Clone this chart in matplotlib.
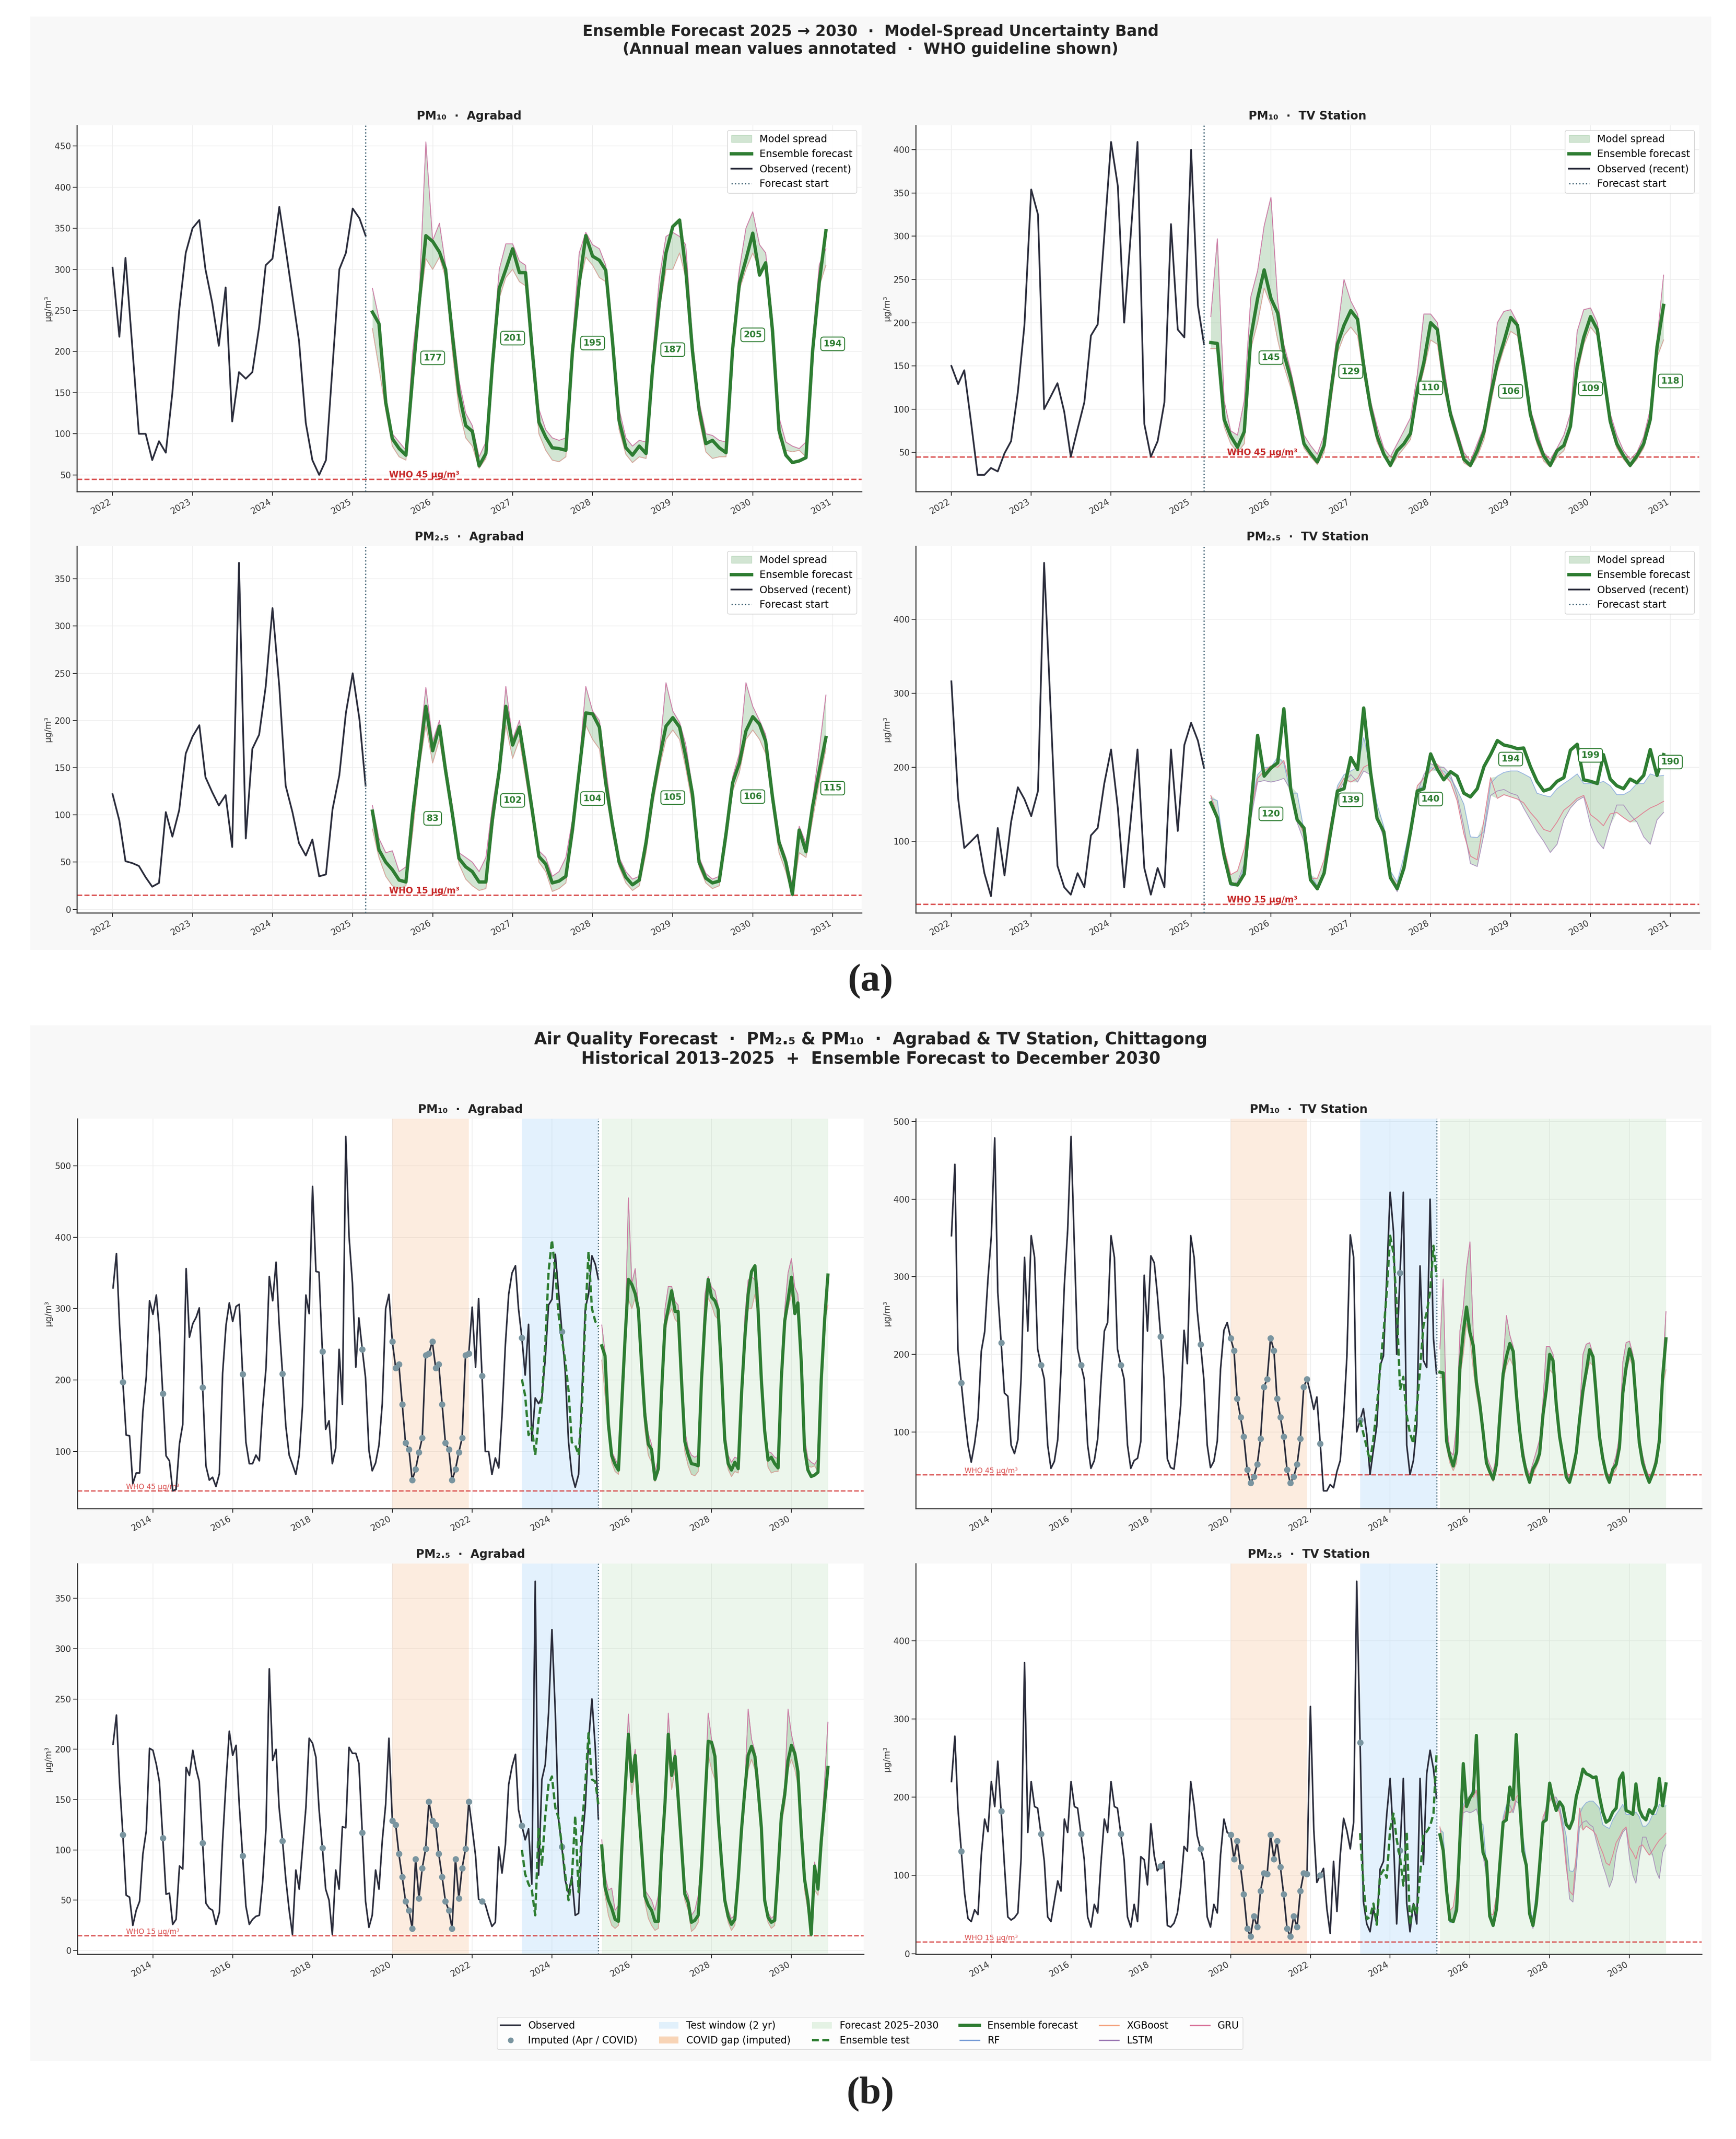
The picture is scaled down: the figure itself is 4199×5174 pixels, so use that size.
import numpy as np
import pandas as pd
import matplotlib
matplotlib.use("Agg")
import matplotlib.pyplot as plt
import matplotlib.dates as mdates
from matplotlib.patches import Patch, Rectangle
from matplotlib.lines import Line2D
from matplotlib.ticker import MultipleLocator

W, H = 4199, 5174

hist_dates = pd.date_range("2013-01-01", periods=108, freq="MS")
recent_dates = pd.date_range("2022-01-01", periods=39, freq="MS")
fc_dates = pd.date_range("2025-04-01", periods=69, freq="MS")
test_dates = pd.date_range("2023-04-01", periods=24, freq="MS")
mean_years = [2025, 2026, 2027, 2028, 2029, 2030]

# ---------------- observed ----------------
agr_pm10_hist = [329, 377, 279, 197, 123, 122, 55, 70, 70, 156, 205, 311,
                 292, 319, 268, 181, 94, 87, 45, 47, 111, 138, 356, 260,
                 279, 288, 301, 190, 80, 60, 64, 51, 69, 210, 277, 308,
                 282, 303, 306, 208, 113, 83, 83, 95, 87, 160, 217, 345,
                 311, 365, 279, 209, 136, 95, 82, 68, 95, 163, 319, 293,
                 471, 352, 351, 240, 131, 143, 83, 105, 243, 166, 541, 401,
                 336, 218, 287, 243, 203, 102, 73, 84, 109, 167, 300, 320,
                 254, 217, 222, 166, 112, 103, 60, 75, 99, 119, 235, 237,
                 254, 217, 222, 166, 112, 103, 60, 75, 99, 119, 235, 237]
agr_pm10_recent = [302, 218, 314, 206, 100, 100, 68, 91, 77, 150, 250, 320,
                   350, 360, 300, 259, 207, 278, 115, 175, 167, 175, 230, 305,
                   313, 376, 325, 268, 213, 113, 68, 50, 68, 182, 300, 320,
                   374, 362, 341]

tv_pm10_hist = [353, 445, 206, 163, 121, 83, 61, 85, 118, 204, 229, 297,
                353, 479, 280, 215, 150, 146, 83, 72, 90, 171, 325, 230,
                353, 325, 207, 186, 168, 83, 53, 62, 90, 181, 290, 360,
                481, 336, 207, 186, 168, 83, 53, 63, 91, 164, 230, 241,
                353, 325, 207, 186, 168, 83, 53, 63, 66, 88, 302, 230,
                327, 318, 278, 223, 168, 65, 54, 52, 88, 134, 231, 188,
                353, 325, 257, 213, 168, 83, 54, 62, 88, 181, 231, 241,
                221, 205, 143, 119, 94, 51, 34, 42, 58, 91, 158, 168,
                221, 205, 143, 119, 94, 51, 34, 42, 58, 91, 158, 168]
tv_pm10_recent = [150, 129, 145, 85, 24, 24, 32, 28, 49, 63, 120, 197,
                  354, 325, 100, 115, 130, 97, 45, 77, 108, 185, 198, 300,
                  409, 358, 200, 305, 409, 83, 45, 63, 108, 314, 192, 183,
                  400, 220, 175]

agr_pm25_hist = [205, 234, 168, 115, 55, 53, 25, 40, 49, 96, 119, 201,
                 199, 185, 168, 112, 56, 57, 26, 31, 84, 81, 182, 174,
                 199, 180, 168, 107, 47, 42, 40, 26, 38, 109, 168, 218,
                 194, 204, 145, 94, 44, 26, 31, 34, 35, 68, 122, 280,
                 189, 200, 142, 109, 71, 40, 16, 80, 61, 101, 142, 211,
                 206, 192, 141, 102, 61, 50, 16, 80, 61, 123, 122, 202,
                 196, 196, 186, 117, 49, 23, 35, 80, 61, 109, 145, 211,
                 129, 125, 96, 73, 49, 40, 22, 91, 52, 82, 101, 148,
                 129, 125, 96, 73, 49, 40, 22, 91, 52, 82, 101, 148]
agr_pm25_recent = [122, 94, 51, 49, 46, 34, 24, 28, 103, 77, 105, 165,
                   183, 195, 140, 124, 110, 121, 66, 367, 75, 170, 185, 236,
                   319, 236, 131, 103, 70, 57, 74, 35, 37, 106, 142, 208,
                   250, 201, 131]

tv_pm25_hist = [220, 278, 186, 131, 77, 45, 41, 56, 50, 126, 172, 156,
                220, 188, 246, 182, 113, 47, 43, 46, 52, 123, 372, 155,
                220, 188, 186, 153, 118, 47, 41, 67, 93, 80, 172, 155,
                220, 188, 186, 153, 120, 47, 34, 63, 52, 116, 172, 155,
                220, 188, 186, 153, 120, 47, 34, 63, 41, 124, 120, 88,
                166, 125, 106, 112, 118, 36, 34, 39, 52, 85, 137, 131,
                220, 189, 151, 134, 118, 47, 34, 63, 52, 126, 172, 155,
                152, 121, 144, 111, 76, 32, 22, 48, 34, 80, 103, 102,
                152, 121, 144, 111, 76, 32, 22, 48, 34, 80, 103, 102]
tv_pm25_recent = [316, 158, 91, 100, 109, 57, 26, 118, 54, 126, 173, 157,
                  134, 168, 476, 270, 67, 38, 28, 57, 38, 108, 118, 178,
                  224, 145, 38, 132, 224, 64, 28, 64, 38, 224, 114, 230,
                  260, 236, 199]

# ---------------- ensemble forecast Apr 2025 - Dec 2030 ----------------
agr_pm10_ens = [248, 234, 138, 94, 82, 74, 167, 260, 341,
                334, 321, 300, 220, 150, 110, 103, 61, 76, 185, 277, 300,
                325, 296, 296, 200, 114, 96, 83, 82, 80, 200, 283, 341,
                316, 311, 299, 212, 116, 83, 74, 85, 76, 180, 260, 320,
                352, 360, 300, 200, 129, 88, 92, 83, 77, 203, 283, 312,
                344, 293, 308, 226, 104, 74, 65, 67, 71, 200, 285, 347]
agr_pm10_hi = [277, 240, 145, 100, 90, 80, 198, 270, 455,
               335, 356, 305, 235, 165, 125, 110, 72, 90, 200, 300, 331,
               331, 310, 305, 215, 130, 105, 95, 92, 95, 215, 320, 345,
               330, 325, 305, 225, 130, 95, 85, 92, 90, 195, 290, 340,
               345, 340, 330, 215, 140, 100, 98, 92, 90, 215, 300, 350,
               370, 330, 320, 240, 120, 90, 85, 82, 90, 215, 306, 325]
agr_pm10_lo = [228, 180, 128, 85, 72, 68, 160, 250, 313,
               300, 315, 290, 200, 130, 95, 85, 58, 70, 170, 265, 290,
               300, 285, 280, 185, 100, 80, 68, 66, 72, 185, 280, 315,
               305, 290, 285, 200, 105, 75, 65, 72, 70, 170, 250, 300,
               300, 320, 290, 190, 118, 78, 70, 72, 72, 190, 275, 300,
               320, 300, 300, 210, 95, 80, 78, 80, 72, 190, 280, 305]

tv_pm10_ens = [177, 176, 88, 69, 56, 74, 183, 228, 261,
               228, 211, 164, 136, 100, 60, 49, 39, 58, 119, 175, 197,
               214, 204, 150, 102, 69, 48, 35, 52, 60, 72, 122, 154,
               200, 192, 136, 94, 69, 42, 35, 52, 74, 116, 153, 178,
               206, 197, 150, 94, 66, 46, 35, 52, 58, 80, 150, 183,
               207, 192, 141, 86, 60, 46, 35, 46, 60, 88, 172, 220]
tv_pm10_hi = [207, 297, 110, 75, 70, 110, 230, 260, 312,
              345, 225, 175, 145, 110, 70, 58, 48, 70, 130, 190, 250,
              225, 210, 160, 110, 80, 55, 45, 60, 75, 90, 140, 210,
              210, 200, 150, 100, 75, 50, 40, 60, 80, 125, 200, 213,
              215, 200, 160, 100, 75, 50, 42, 55, 70, 95, 190, 215,
              217, 200, 150, 95, 70, 52, 42, 50, 68, 100, 180, 255]
tv_pm10_lo = [170, 170, 80, 60, 50, 60, 170, 200, 240,
              220, 180, 150, 125, 95, 55, 45, 36, 50, 105, 165, 185,
              195, 185, 140, 95, 62, 45, 33, 45, 55, 65, 115, 145,
              180, 175, 125, 88, 62, 38, 33, 45, 65, 105, 145, 170,
              190, 185, 140, 88, 60, 40, 33, 45, 52, 75, 140, 175,
              195, 185, 135, 80, 55, 42, 33, 42, 55, 82, 160, 180]

agr_pm25_ens = [104, 63, 50, 42, 31, 29, 100, 160, 215,
                168, 194, 147, 101, 54, 45, 40, 29, 29, 96, 147, 215,
                174, 193, 152, 104, 56, 48, 28, 30, 35, 84, 147, 208,
                207, 193, 134, 89, 50, 34, 26, 31, 71, 120, 160, 194,
                203, 193, 162, 122, 50, 33, 28, 30, 80, 134, 155, 189,
                204, 196, 178, 119, 71, 50, 16, 84, 61, 109, 147, 182]
agr_pm25_hi = [110, 75, 60, 62, 40, 45, 110, 170, 235,
               178, 200, 155, 110, 60, 55, 50, 40, 55, 110, 155, 236,
               180, 200, 160, 110, 62, 55, 35, 40, 55, 95, 155, 236,
               210, 200, 150, 95, 55, 40, 32, 35, 75, 125, 165, 240,
               210, 198, 175, 128, 55, 38, 32, 35, 85, 140, 165, 240,
               215, 200, 185, 125, 75, 55, 25, 88, 70, 115, 170, 227]
agr_pm25_lo = [85, 55, 35, 25, 22, 25, 80, 150, 195,
               155, 180, 140, 95, 48, 32, 25, 20, 22, 85, 140, 195,
               160, 180, 140, 95, 50, 40, 19, 22, 28, 80, 140, 195,
               180, 170, 125, 80, 45, 28, 20, 25, 60, 110, 150, 180,
               190, 180, 150, 110, 45, 28, 22, 25, 70, 125, 145, 180,
               190, 180, 165, 110, 60, 40, 14, 60, 55, 95, 135, 170]

tv_pm25_ens = [152, 132, 80, 43, 41, 56, 145, 243, 188,
               199, 206, 279, 171, 129, 118, 48, 36, 57, 113, 168, 171,
               213, 197, 280, 194, 131, 113, 51, 36, 64, 113, 168, 171,
               218, 197, 183, 194, 188, 165, 160, 171, 201, 217, 236, 230,
               228, 225, 226, 201, 181, 168, 171, 181, 186, 223, 231, 183,
               181, 178, 217, 184, 175, 171, 184, 179, 189, 224, 189, 217]
tv_pm25_rf = [158, 155, 85, 40, 40, 65, 150, 190, 200,
              200, 214, 205, 165, 165, 115, 55, 40, 60, 120, 175, 190,
              195, 200, 240, 200, 150, 120, 60, 45, 80, 120, 170, 175,
              200, 195, 195, 185, 170, 150, 106, 105, 113, 178, 188, 193,
              195, 195, 191, 186, 165, 162, 160, 171, 178, 184, 191, 178,
              178, 178, 181, 175, 163, 163, 168, 178, 178, 191, 188, 189]
tv_pm25_lstm = [150, 130, 75, 42, 45, 70, 130, 180, 182,
                180, 182, 185, 170, 125, 100, 45, 38, 62, 110, 165, 180,
                190, 180, 195, 190, 130, 105, 50, 32, 60, 110, 165, 190,
                205, 200, 200, 190, 162, 120, 70, 66, 110, 162, 168, 170,
                165, 162, 145, 129, 113, 100, 85, 96, 129, 145, 155, 160,
                122, 100, 90, 122, 149, 149, 136, 126, 106, 96, 129, 139]
tv_pm25_gru = [162, 135, 90, 55, 60, 90, 140, 185, 195,
               202, 200, 209, 175, 130, 110, 50, 50, 75, 125, 170, 185,
               180, 185, 200, 205, 135, 110, 55, 40, 70, 115, 175, 185,
               195, 204, 190, 180, 155, 110, 80, 75, 129, 186, 158, 163,
               160, 157, 152, 139, 129, 116, 113, 126, 142, 149, 158, 162,
               136, 129, 121, 137, 139, 132, 126, 132, 139, 145, 149, 154]

# ---------------- ensemble on test window Apr 2023 - Mar 2025 ----------------
agr_pm10_test = [201, 178, 123, 134, 95, 145, 174, 250, 351, 396, 351, 293,
                 257, 228, 185, 113, 109, 95, 160, 286, 380, 300, 282, 275]
tv_pm10_test = [115, 98, 80, 62, 91, 131, 181, 227, 280, 353, 330, 264,
                154, 171, 121, 98, 85, 130, 181, 237, 254, 280, 340, 300]
agr_pm25_test = [100, 76, 66, 60, 35, 122, 84, 134, 165, 173, 142, 132,
                 104, 76, 50, 71, 134, 58, 122, 165, 216, 170, 168, 145]
tv_pm25_test = [154, 90, 44, 47, 64, 37, 100, 107, 97, 159, 179, 146,
                123, 87, 156, 37, 64, 51, 100, 153, 156, 163, 179, 255]

agr_pm10_means = [177, 201, 195, 187, 205, 194]
tv_pm10_means = [145, 129, 110, 106, 109, 118]
agr_pm25_means = [83, 102, 104, 105, 106, 115]
tv_pm25_means = [120, 139, 140, 194, 199, 190]

panels = [
    dict(title="PM₁₀  ·  Agrabad", who=45, hist=agr_pm10_hist, recent=agr_pm10_recent,
         ens=agr_pm10_ens, test=agr_pm10_test, means=agr_pm10_means,
         models={"RF": agr_pm10_lo, "XGBoost": agr_pm10_lo, "LSTM": agr_pm10_hi, "GRU": agr_pm10_hi},
         step_a=50, step_b=100),
    dict(title="PM₁₀  ·  TV Station", who=45, hist=tv_pm10_hist, recent=tv_pm10_recent,
         ens=tv_pm10_ens, test=tv_pm10_test, means=tv_pm10_means,
         models={"RF": tv_pm10_lo, "XGBoost": tv_pm10_lo, "LSTM": tv_pm10_hi, "GRU": tv_pm10_hi},
         step_a=50, step_b=100),
    dict(title="PM₂.₅  ·  Agrabad", who=15, hist=agr_pm25_hist, recent=agr_pm25_recent,
         ens=agr_pm25_ens, test=agr_pm25_test, means=agr_pm25_means,
         models={"RF": agr_pm25_lo, "XGBoost": agr_pm25_lo, "LSTM": agr_pm25_hi, "GRU": agr_pm25_hi},
         step_a=50, step_b=50),
    dict(title="PM₂.₅  ·  TV Station", who=15, hist=tv_pm25_hist, recent=tv_pm25_recent,
         ens=tv_pm25_ens, test=tv_pm25_test, means=tv_pm25_means,
         models={"RF": tv_pm25_rf, "XGBoost": tv_pm25_gru, "LSTM": tv_pm25_lstm, "GRU": tv_pm25_gru},
         step_a=100, step_b=100),
]

C_OBS = "#2b2d3c"
C_ENS = "#2e7d32"
C_SPREAD = "#4c9a50"
C_WHO = "#d32f2f"
C_VLINE = "#4a6a7a"
C_IMP = "#7a95a0"
C_TEST = "#90caf9"
C_COVID = "#f4a261"
C_FC = "#81c784"
MODEL_COLORS = {"RF": "#7b9fd8", "XGBoost": "#f4a582", "LSTM": "#9e7bb5", "GRU": "#d9769c"}

fig = plt.figure(figsize=(W / 100, H / 100), dpi=100)
fig.patch.set_facecolor("white")


def box(x0, y0, x1, y1):
    return [x0 / W, 1 - y1 / H, (x1 - x0) / W, (y1 - y0) / H]


for y0, y1 in [(40, 2298), (2480, 4985)]:
    fig.patches.append(Rectangle((73 / W, 1 - y1 / H), (4139 - 73) / W, (y1 - y0) / H,
                                 transform=fig.transFigure, fc="#f8f8f8", ec="none", zorder=-10))


def style_ax(ax, p, ystep, yearstep):
    ax.set_facecolor("white")
    for s in ["top", "right"]:
        ax.spines[s].set_visible(False)
    for s in ["left", "bottom"]:
        ax.spines[s].set_color("#333333")
        ax.spines[s].set_linewidth(1.8)
    ax.grid(True, color="#eeeeee", lw=1.2, zorder=0)
    ax.set_axisbelow(True)
    ax.yaxis.set_major_locator(MultipleLocator(ystep))
    ax.xaxis.set_major_locator(mdates.YearLocator(yearstep))
    ax.xaxis.set_major_formatter(mdates.DateFormatter("%Y"))
    ax.tick_params(labelsize=15, colors="#333333", length=7, width=1.5)
    ax.tick_params(axis="x", labelrotation=30)
    plt.setp(ax.get_xticklabels(), ha="right")
    ax.set_ylabel("µg/m³", fontsize=15, color="#333333")
    ax.set_title(p["title"], fontsize=20, fontweight="bold", color="#222222", pad=10)


def draw_spread(ax, p):
    m = np.array([p["models"][k] for k in MODEL_COLORS])
    ax.fill_between(fc_dates, m.min(axis=0), m.max(axis=0), color=C_SPREAD, alpha=0.25, lw=0, zorder=2)
    for name, col in MODEL_COLORS.items():
        ax.plot(fc_dates, p["models"][name], color=col, lw=1.4, alpha=0.75, zorder=3)


# ---------------- (a) ----------------
pos_a = [(186, 303, 2084, 1189), (2215, 303, 4110, 1189),
         (186, 1321, 2084, 2208), (2215, 1321, 4110, 2208)]
for p, pos in zip(panels, pos_a):
    ax = fig.add_axes(box(*pos))
    draw_spread(ax, p)
    ax.plot(fc_dates, p["ens"], color=C_ENS, lw=5.8, zorder=5)
    ax.plot(recent_dates, p["recent"], color=C_OBS, lw=3.0, zorder=4)
    ax.axvline(recent_dates[-1], color=C_VLINE, ls=":", lw=2.2, zorder=4)
    ax.axhline(p["who"], color=C_WHO, ls="--", lw=2.4, alpha=0.85, zorder=1)
    ax.text(pd.Timestamp("2025-06-15"), p["who"], f"WHO {p['who']} µg/m³", color="#c62828",
            fontsize=15, fontweight="bold", va="bottom", ha="left")
    for yr, v in zip(mean_years, p["means"]):
        ax.annotate(str(v), (pd.Timestamp(f"{yr + 1}-01-01"), v), xytext=(0, 22),
                    textcoords="offset points", ha="center", va="center", fontsize=15.5,
                    fontweight="bold", color=C_ENS, zorder=7,
                    bbox=dict(boxstyle="round,pad=0.3", fc="white", ec=C_ENS, lw=1.6))
    style_ax(ax, p, p["step_a"], 1)
    handles = [Patch(fc=C_SPREAD, alpha=0.25, ec=C_SPREAD),
               Line2D([], [], color=C_ENS, lw=5.8),
               Line2D([], [], color=C_OBS, lw=3.0),
               Line2D([], [], color=C_VLINE, ls=":", lw=2.2)]
    ax.legend(handles, ["Model spread", "Ensemble forecast", "Observed (recent)", "Forecast start"],
              loc="upper right", fontsize=17.5, framealpha=0.95, edgecolor="#cccccc")

fig.text(2106 / W, 1 - 98 / H,
         "Ensemble Forecast 2025 → 2030  ·  Model-Spread Uncertainty Band\n"
         "(Annual mean values annotated  ·  WHO guideline shown)",
         ha="center", va="center", fontsize=26.5, fontweight="bold", color="#222222")
fig.text(2106 / W, 1 - 2374 / H, "(a)", ha="center", va="center", fontsize=68,
         fontweight="bold", family="Liberation Serif", color="#222222")

# ---------------- (b) ----------------
obs_dates = hist_dates.append(recent_dates)
imputed = (obs_dates.month == 4) | ((obs_dates.year >= 2020) & (obs_dates.year <= 2021))

pos_b = [(187, 2706, 2089, 3649), (2215, 2706, 4116, 3649),
         (187, 3782, 2089, 4727), (2215, 3782, 4116, 4727)]
for p, pos in zip(panels, pos_b):
    ax = fig.add_axes(box(*pos))
    obs = np.array(p["hist"] + p["recent"])
    ax.axvspan(pd.Timestamp("2020-01-01"), pd.Timestamp("2021-12-01"), color=C_COVID, alpha=0.2, lw=0, zorder=1)
    ax.axvspan(test_dates[0], test_dates[-1], color=C_TEST, alpha=0.25, lw=0, zorder=1)
    ax.axvspan(fc_dates[0], fc_dates[-1], color=C_FC, alpha=0.15, lw=0, zorder=1)
    draw_spread(ax, p)
    ax.plot(obs_dates, obs, color=C_OBS, lw=2.8, zorder=4)
    ax.plot(obs_dates[imputed], obs[imputed], "o", color=C_IMP, ms=10, zorder=5)
    ax.plot(test_dates, p["test"], color=C_ENS, lw=4, ls=(0, (3, 1.5)), zorder=5)
    ax.plot(fc_dates, p["ens"], color=C_ENS, lw=5.5, zorder=6)
    ax.axvline(obs_dates[-1], color=C_VLINE, ls=":", lw=2.0, zorder=4)
    ax.axhline(p["who"], color=C_WHO, ls="--", lw=2.2, alpha=0.8, zorder=2)
    ax.text(pd.Timestamp("2013-05-01"), p["who"], f"WHO {p['who']} µg/m³", color=C_WHO,
            fontsize=12.5, va="bottom", ha="left", alpha=0.85)
    style_ax(ax, p, p["step_b"], 2)

fig.text(2106 / W, 1 - 2538 / H,
         "Air Quality Forecast  ·  PM₂.₅ & PM₁₀  ·  Agrabad & TV Station, Chittagong\n"
         "Historical 2013–2025  +  Ensemble Forecast to December 2030",
         ha="center", va="center", fontsize=28.5, fontweight="bold", color="#222222")

leg_handles = [Line2D([], [], color=C_OBS, lw=3.0),
               Line2D([], [], ls="none", marker="o", color=C_IMP, ms=9),
               Patch(fc=C_TEST, alpha=0.25),
               Patch(fc=C_COVID, alpha=0.45),
               Patch(fc=C_FC, alpha=0.2),
               Line2D([], [], color=C_ENS, lw=4, ls=(0, (3, 1.5))),
               Line2D([], [], color=C_ENS, lw=5.5),
               Line2D([], [], color=MODEL_COLORS["RF"], lw=2.4),
               Line2D([], [], color=MODEL_COLORS["XGBoost"], lw=2.4),
               Line2D([], [], color=MODEL_COLORS["LSTM"], lw=2.4),
               Line2D([], [], color=MODEL_COLORS["GRU"], lw=2.4)]
leg_labels = ["Observed", "Imputed (Apr / COVID)", "Test window (2 yr)", "COVID gap (imputed)",
              "Forecast 2025–2030", "Ensemble test", "Ensemble forecast", "RF",
              "XGBoost", "LSTM", "GRU"]
fig.legend(leg_handles, leg_labels, loc="center", bbox_to_anchor=(2104 / W, 1 - 4918 / H),
           ncol=6, fontsize=17, frameon=True, edgecolor="#cccccc", facecolor="white",
           columnspacing=2.2)

fig.text(2106 / W, 1 - 5065 / H, "(b)", ha="center", va="center", fontsize=68,
         fontweight="bold", family="Liberation Serif", color="#222222")

fig.savefig("out.png", dpi=100, facecolor="white")
